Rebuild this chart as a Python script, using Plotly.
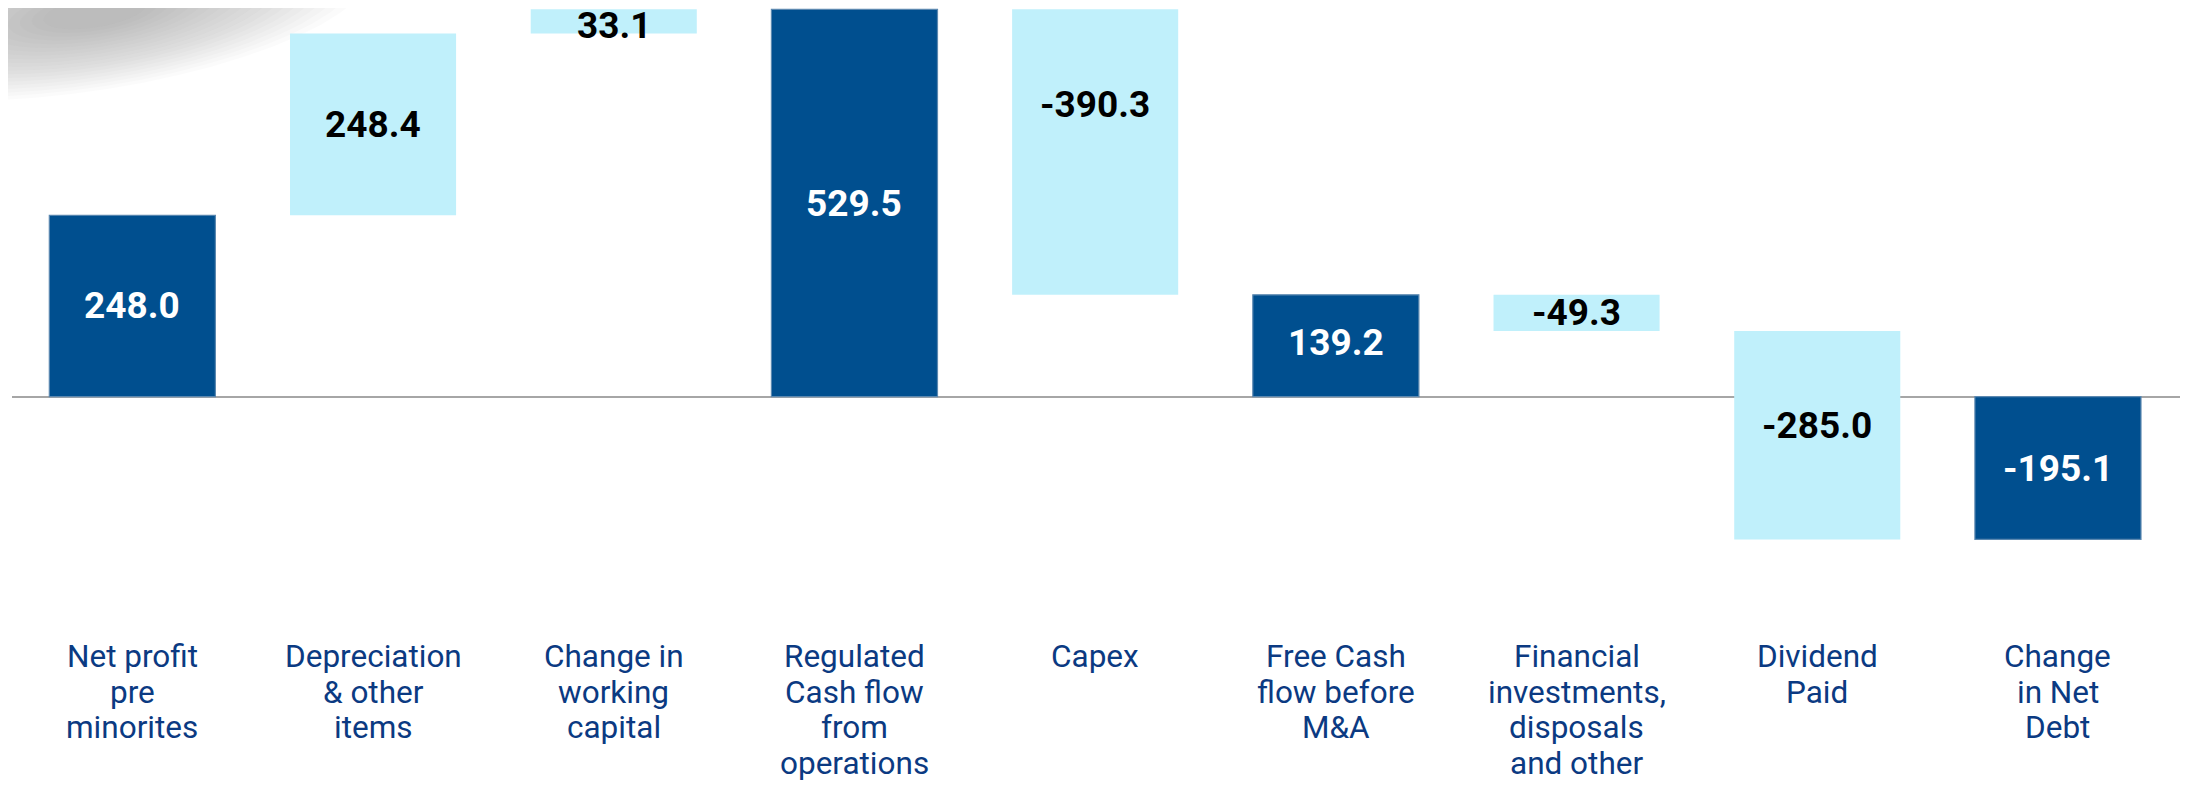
import math
import plotly.graph_objects as go

# ---- data ----
categories = [
    "Net profit<br>pre<br>minorites",
    "Depreciation<br>& other<br>items",
    "Change in<br>working<br>capital",
    "Regulated<br>Cash flow<br>from<br>operations",
    "Capex",
    "Free Cash<br>flow before<br>M&A",
    "Financial<br>investments,<br>disposals<br>and other",
    "Dividend<br>Paid",
    "Change<br>in Net<br>Debt",
]
measures = ["absolute", "relative", "relative", "total", "relative",
            "total", "relative", "relative", "total"]
values = [248.0, 248.4, 33.1, 529.5, -390.3, 139.2, -49.3, -285.0, -195.1]

# label vertical nudges (px, positive = up)
label_shift = [0, 0, -4, 0, 48, 3, 0, 10, 0]

DARK = "#004F8F"
LIGHT = "#C0F0FB"
CAT_COLOR = "#0B3A82"

OFF = 8                      # page body margin
W, H = 2188 - OFF, 788 - OFF
PLOT_LEFT_PAGE = 12
ML = PLOT_LEFT_PAGE - OFF
MR, MT, MB = 0, 0, 180
PLOT_H = H - MT - MB
PLOT_W = W - ML - MR
ZERO_PAGE = 396.7
PX_PER_UNIT = 0.7316
PX_PER_CAT = 240.7
zero_fig = ZERO_PAGE - OFF
y_top = (zero_fig - MT) / PX_PER_UNIT
y_bot = -(PLOT_H - (zero_fig - MT)) / PX_PER_UNIT
x_lo = -0.5
x_hi = x_lo + PLOT_W / PX_PER_CAT

xs = list(range(len(categories)))

fig = go.Figure()
fig.add_trace(go.Waterfall(
    x=xs,
    y=values,
    measure=measures,
    increasing=dict(marker=dict(color=LIGHT, line=dict(width=0))),
    decreasing=dict(marker=dict(color=LIGHT, line=dict(width=0))),
    totals=dict(marker=dict(color=DARK, line=dict(color="#5B88B0", width=1.2))),
    connector=dict(visible=False),
    textinfo="none",
    hoverinfo="skip",
    showlegend=False,
))

annotations = []
running = 0.0
for i, (m, v) in enumerate(zip(measures, values)):
    if m == "absolute":
        lo, hi = 0.0, v
        running = v
        shown = v
        dark = True
    elif m == "total":
        lo, hi = 0.0, running
        shown = running
        dark = True
    else:
        lo, hi = running, running + v
        running += v
        shown = v
        dark = False
    mid = (lo + hi) / 2
    annotations.append(dict(
        x=i, y=mid, xref="x", yref="y",
        text=f"<b>{shown:.1f}</b>",
        showarrow=False,
        yanchor="middle", xanchor="center",
        yshift=label_shift[i],
        font=dict(family="Roboto", size=37, color="#FFFFFF" if dark else "#000000"),
    ))

# category labels, one annotation per line
LINE_GAP = 35.6
FIRST_LINE_CENTER_PAGE = 656.5
for i, cat in enumerate(categories):
    for j, line in enumerate(cat.split("<br>")):
        cy = FIRST_LINE_CENTER_PAGE - OFF + j * LINE_GAP
        annotations.append(dict(
            x=i, xref="x",
            y=1 - (cy - MT) / PLOT_H, yref="paper",
            text=line, showarrow=False,
            xanchor="center", yanchor="middle",
            font=dict(family="Roboto", size=31.5, color=CAT_COLOR),
        ))

# soft gray shadow in the top-left corner (decorative), rotated ellipses
shapes = []
def px2paper_x(px_page):
    return (px_page - OFF - ML) / PLOT_W
def px2paper_y(py_page):
    return 1 - (py_page - OFF - MT) / PLOT_H

def ellipse_path(cx, cy, rx, ry, ang_deg, npts=48):
    a = math.radians(ang_deg)
    pts = []
    for t in range(npts):
        th = 2 * math.pi * t / npts
        ex, ey = rx * math.cos(th), ry * math.sin(th)
        px = cx + ex * math.cos(a) - ey * math.sin(a)
        py = cy + ex * math.sin(a) + ey * math.cos(a)
        pts.append((px2paper_x(px), px2paper_y(py)))
    return "M " + " L ".join(f"{x:.5f},{y:.5f}" for x, y in pts) + " Z"

n = 20
for k in range(n):
    f = 1 - k / n
    shapes.append(dict(
        type="path", xref="paper", yref="paper",
        path=ellipse_path(95, 12, 40 + 240 * f, 12 + 66 * f, -9),
        fillcolor="#7d7d7d", opacity=0.032, line=dict(width=0), layer="below",
    ))

fig.update_layout(
    width=W, height=H,
    margin=dict(l=ML, r=MR, t=MT, b=MB, pad=0),
    paper_bgcolor="white", plot_bgcolor="rgba(0,0,0,0)",
    waterfallgap=0.31,
    xaxis=dict(range=[x_lo, x_hi], showticklabels=False, showgrid=False,
               zeroline=False, showline=False, ticks=""),
    yaxis=dict(range=[y_bot, y_top], showticklabels=False, showgrid=False,
               zeroline=True, zerolinecolor="#A6A6A6", zerolinewidth=2,
               showline=False, ticks="", layer="above traces"),
    annotations=annotations,
    shapes=shapes,
    font=dict(family="Roboto"),
)

fig.write_html("out.html")
